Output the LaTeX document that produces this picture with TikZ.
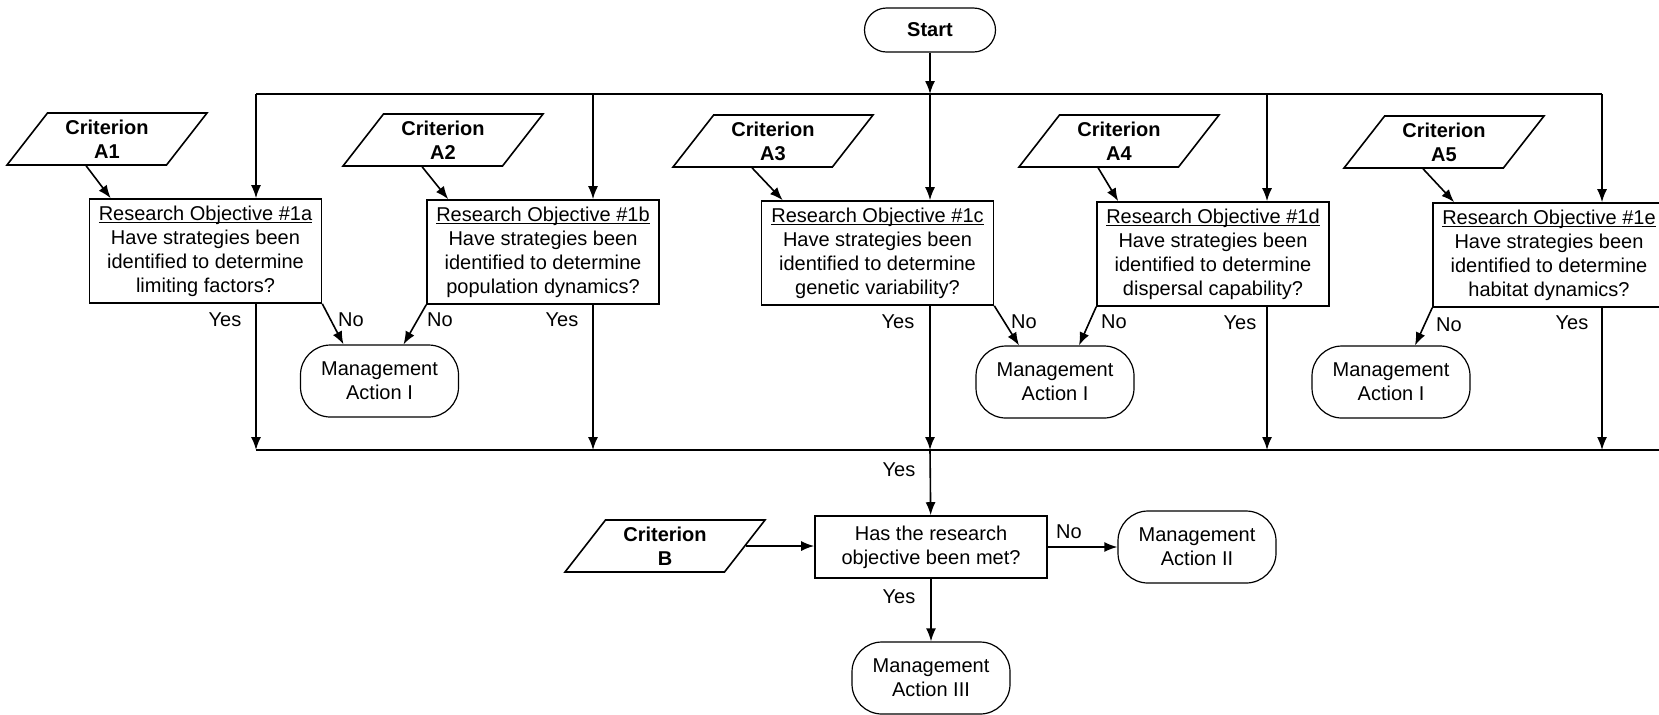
\documentclass[tikz,border=0pt]{standalone}
\usepackage{fontspec}
\setmainfont{Liberation Sans}
\usetikzlibrary{arrows,arrows.meta,shapes.geometric}
\newcommand{\objtitle}[1]{\setbox0\hbox{#1}\rlap{\rule[-1.4pt]{\wd0}{0.4pt}}#1}

\begin{document}
\begin{tikzpicture}[x=0.5pt,y=-0.5pt]
\tikzstyle{op}=[->,line width=0.8pt,>={Latex[length=6.5pt,width=5pt]}]
\tikzstyle{ln}=[line width=0.8pt]
\tikzstyle{term}=[draw,line width=0.6pt,rounded corners=11pt,minimum width=65.5pt,minimum height=22pt]
\tikzstyle{obj}=[draw,line width=0.8pt,minimum width=116pt,minimum height=52pt,align=center,inner sep=1pt]
\tikzstyle{crit}=[draw,line width=0.8pt,trapezium,trapezium left angle=52,trapezium right angle=128,trapezium stretches body,minimum width=100pt,minimum height=26pt,align=center,font=\bfseries]
\tikzstyle{act}=[draw,line width=0.6pt,rounded corners=15pt,minimum width=79pt,minimum height=36pt,align=center]
\useasboundingbox (0,0) rectangle (1659,714);

\node (start) at (930,30) [term]{\textbf{Start}};
\coordinate (t1) at (256,94);
\coordinate (t2) at (593,94);
\coordinate (t3) at (930,94);
\coordinate (t4) at (1267,94);
\coordinate (t5) at (1602,94);
\coordinate (b1) at (256,450);
\coordinate (b2) at (593,450);
\coordinate (b3) at (930,450);
\coordinate (b4) at (1267,450);
\coordinate (b5) at (1602,450);
\coordinate (bend) at (1665,450);

\node (crit1) at (107,139) [crit]{Criterion\\A1};
\node (crit2) at (443,140) [crit]{Criterion\\A2};
\node (crit3) at (773,141) [crit]{Criterion\\A3};
\node (crit4) at (1119,141) [crit]{Criterion\\A4};
\node (crit5) at (1444,142) [crit]{Criterion\\A5};

\node (obj1a) at (205.5,251) [obj]{\objtitle{Research Objective \#1a}\\Have strategies been\\identified to determine\\limiting factors?};
\node (obj1b) at (543,252) [obj]{\objtitle{Research Objective \#1b}\\Have strategies been\\identified to determine\\population dynamics?};
\node (obj1c) at (877.5,253) [obj]{\objtitle{Research Objective \#1c}\\Have strategies been\\identified to determine\\genetic variability?};
\node (obj1d) at (1213,254) [obj]{\objtitle{Research Objective \#1d}\\Have strategies been\\identified to determine\\dispersal capability?};
\node (obj1e) at (1549,255) [obj]{\objtitle{Research Objective \#1e}\\Have strategies been\\identified to determine\\habitat dynamics?};

\node (act1) at (379.5,381) [act]{Management\\Action I};
\node (act3) at (1055,382) [act]{Management\\Action I};
\node (act5) at (1391,382) [act]{Management\\Action I};

\node (yes1) at (225,320) {Yes};
\node (no1) at (351,320) {No};
\node (no2) at (440,320) {No};
\node (yes2) at (562,320) {Yes};
\node (yes3) at (898,322) {Yes};
\node (no3) at (1024,322) {No};
\node (no4) at (1114,322) {No};
\node (yes4) at (1240,323) {Yes};
\node (no5) at (1449,325) {No};
\node (yes5) at (1572,323) {Yes};

\node (critB) at (665,546) [crit]{Criterion\\B};
\node (check) at (931,547) [obj,minimum height=31pt]{Has the research\\objective been met?};
\node (act2) at (1197,547) [act]{Management\\Action II};
\node (actB) at (931,678) [act]{Management\\Action III};
\node (yesB) at (899,470) {Yes};
\node (noB) at (1069,532) {No};
\node (yesC) at (899,597) {Yes};

\draw[op] (start) -- (t3);
\draw[ln] (t1) -- (t5);
\draw[op] (t1) -- (t1 |- obj1a.north);
\draw[op] (t2) -- (t2 |- obj1b.north);
\draw[op] (t3) -- (t3 |- obj1c.north);
\draw[op] (t4) -- (t4 |- obj1d.north);
\draw[op] (t5) -- (t5 |- obj1e.north);

\draw[op] (crit1.bottom side) -- ([xshift=11pt]obj1a.north west);
\draw[op] (crit2.bottom side) -- ([xshift=11pt]obj1b.north west);
\draw[op] (crit3.bottom side) -- ([xshift=11pt]obj1c.north west);
\draw[op] (crit4.bottom side) -- ([xshift=11pt]obj1d.north west);
\draw[op] (crit5.bottom side) -- ([xshift=11pt]obj1e.north west);

\draw[op] (obj1a.south east) -- ([xshift=-18pt]act1.north);
\draw[op] (obj1b.south west) -- ([xshift=12pt]act1.north);
\draw[op] (obj1c.south east) -- ([xshift=-18pt]act3.north);
\draw[op] (obj1d.south west) -- ([xshift=12pt]act3.north);
\draw[op] (obj1e.south west) -- ([xshift=12pt]act5.north);

\draw[op] (obj1a.south -| b1) -- (b1);
\draw[op] (obj1b.south -| b2) -- (b2);
\draw[op] (obj1c.south -| b3) -- (b3);
\draw[op] (obj1d.south -| b4) -- (b4);
\draw[op] (obj1e.south -| b5) -- (b5);
\draw[ln] (b1) -- (bend);

\draw[op] (b3) -- (check);
\draw[op] (critB.right side) -- (critB.right side -| check.west);
\draw[op] (check) -- (act2);
\draw[op] (check) -- (actB);
\end{tikzpicture}
\end{document}
